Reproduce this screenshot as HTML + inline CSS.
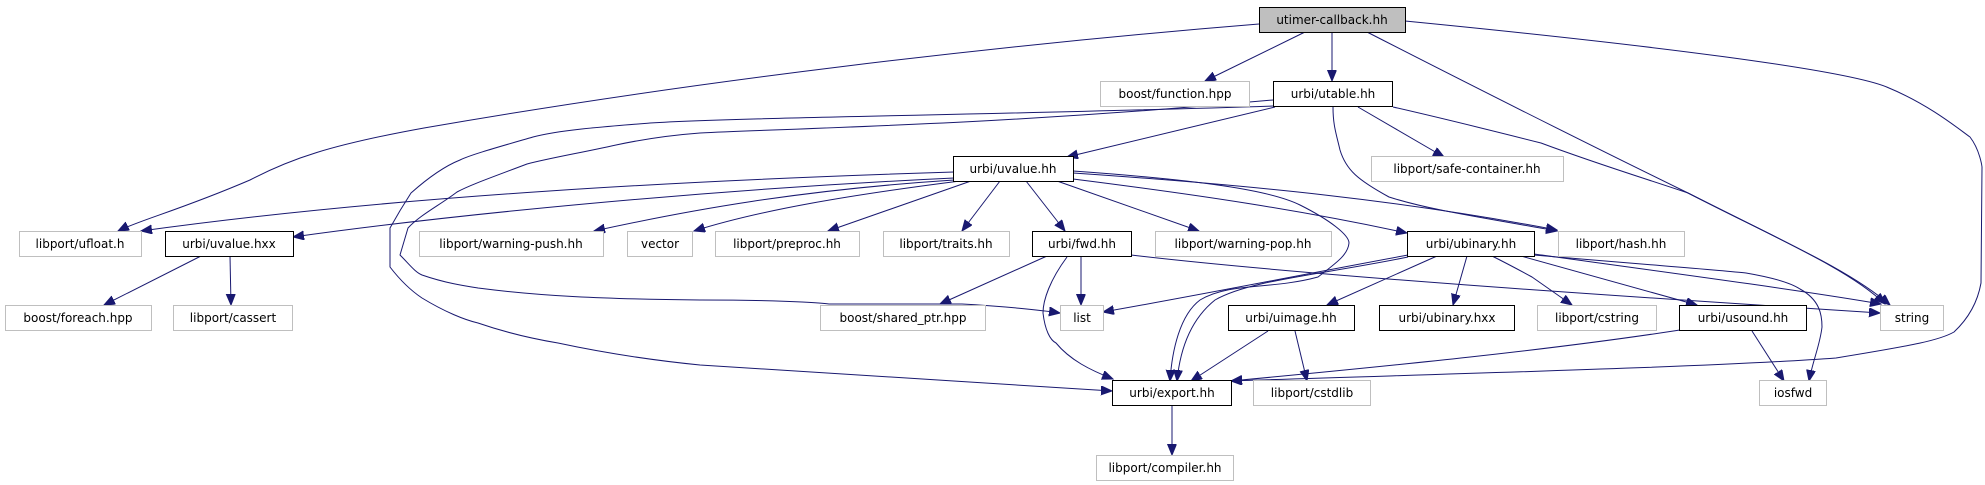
<!DOCTYPE html>
<html><head><meta charset="utf-8"><style>
html,body{margin:0;padding:0;background:#fff;}
svg{display:block;}
text{font-family:"DejaVu Sans","Liberation Sans",sans-serif;font-size:12px;fill:#000;text-anchor:middle;}
.e{fill:none;stroke:#191970;stroke-width:1;stroke-linejoin:round;}
.g{fill:#fff;stroke:#bfbfbf;stroke-width:1;}
.b{fill:#fff;stroke:#000;stroke-width:1;}
</style></head><body>
<svg width="1985" height="485" viewBox="0 0 1985 485" xmlns="http://www.w3.org/2000/svg">
<defs>
<marker id="a" markerUnits="userSpaceOnUse" markerWidth="12" markerHeight="10" refX="11" refY="4.5" orient="auto">
<path d="M0,0 L11,4.5 L0,9 Z" fill="#191970" stroke="#191970"/>
</marker>
</defs>
<g marker-end="url(#a)">
<!-- from utimer -->
<path class="e" d="M1259,24 C1000,45 700,80 424,128 C330,145 290,159 250,180 C180,210 140,220 118,231"/>
<path class="e" d="M1305,32 L1205,81"/>
<path class="e" d="M1332,32 L1332,81"/>
<path class="e" d="M1367,32 C1500,100 1600,150 1688,193 C1780,240 1850,270 1890,305"/>
<path class="e" d="M1405,21 C1650,45 1850,70 1889,88 C1930,105 1960,130 1970,137 C1980,150 1982,167 1982,167 L1981,283 C1978,300 1970,317 1954,332 C1940,340 1916,345 1836,358 C1700,368 1400,375 1231,381"/>
<!-- from utable -->
<path class="e" d="M1275,107 L1067,157"/>
<path class="e" d="M1358,107 L1444,157"/>
<path class="e" d="M1393,107 C1450,120 1541,143 1541,143 C1600,165 1650,180 1688,193 C1780,240 1850,270 1885,304"/>
<path class="e" d="M1333,107 C1333,125 1336,133 1340,150 C1346,170 1358,180 1389,197 C1430,210 1479,217 1557,231"/>
<path class="e" d="M1273,106 C1000,115 750,117 650,123 C600,127 560,130 533,137 C495,148 470,155 460,160 C440,168 420,185 411,193 C400,210 390,228 390,228 L390,267 C400,280 410,290 422,298 C445,312 465,320 478,323 C510,334 540,340 558,343 C600,352 650,360 700,365 C850,375 1000,385 1112,391"/>
<path class="e" d="M1273,100 C1000,125 800,128 700,133 C660,136 630,142 616,145 C580,153 550,158 527,164 C490,178 470,185 457,192 C440,205 420,215 408,228 L400,255 C410,265 415,272 422,275 C445,283 465,286 478,288 C540,296 600,299 700,300 C800,300 829,304 829,304 L962,304 C1000,306 1040,310 1060,313"/>
<!-- from uvalue.hh -->
<path class="e" d="M954,172 C700,180 400,195 141,231"/>
<path class="e" d="M954,178 C700,190 450,215 293,237"/>
<path class="e" d="M954,180 C800,190 690,210 594,231"/>
<path class="e" d="M960,181 C850,195 760,210 694,231"/>
<path class="e" d="M971,181 L828,231"/>
<path class="e" d="M1000,181 L962,231"/>
<path class="e" d="M1026,181 L1065,231"/>
<path class="e" d="M1057,181 L1199,231"/>
<path class="e" d="M1073,179 C1200,195 1300,210 1407,233"/>
<path class="e" d="M1073,173 C1250,185 1400,200 1557,230"/>
<path class="e" d="M1073,171 C1200,180 1270,190 1300,205 C1330,220 1349,235 1349,243 C1348,255 1336,263 1318,277 C1270,290 1230,282 1200,300 C1180,315 1172,350 1170,381"/>
<!-- from uvalue.hxx -->
<path class="e" d="M201,256 L104,305"/>
<path class="e" d="M230,256 L231,305"/>
<!-- from fwd -->
<path class="e" d="M1047,256 L940,304"/>
<path class="e" d="M1081,256 L1081,305"/>
<path class="e" d="M1067,257 C1050,280 1043,300 1043,313 C1045,330 1050,340 1056,343 C1070,360 1090,370 1113,379"/>
<path class="e" d="M1131,255 C1300,275 1600,295 1880,313"/>
<!-- from ubinary -->
<path class="e" d="M1408,255 C1300,275 1200,295 1103,312"/>
<path class="e" d="M1408,257 C1320,275 1250,280 1215,300 C1190,320 1180,350 1177,381"/>
<path class="e" d="M1437,256 L1327,305"/>
<path class="e" d="M1467,256 L1453,305"/>
<path class="e" d="M1492,256 C1510,265 1532,277 1532,277 L1572,305"/>
<path class="e" d="M1521,256 L1697,305"/>
<path class="e" d="M1534,254 C1650,270 1800,290 1881,304"/>
<path class="e" d="M1534,255 C1650,265 1720,270 1746,273 C1775,278 1791,283 1800,289 C1820,300 1822,315 1822,327 C1820,345 1813,360 1809,381"/>
<!-- from uimage, usound -->
<path class="e" d="M1268,331 L1191,381"/>
<path class="e" d="M1295,331 L1307,381"/>
<path class="e" d="M1680,330 C1550,350 1400,365 1231,381"/>
<path class="e" d="M1752,331 L1784,381"/>
<!-- export -->
<path class="e" d="M1172,405 L1172,455"/>
</g>
<!-- nodes -->
<rect x="1259.5" y="7.5" width="146" height="25" fill="#bfbfbf" stroke="#000"/><text x="1332" y="24">utimer-callback.hh</text>
<rect class="g" x="1100.5" y="81.5" width="149" height="25"/><text x="1175" y="98">boost/function.hpp</text>
<rect class="b" x="1273.5" y="81.5" width="119" height="25"/><text x="1333" y="98">urbi/utable.hh</text>
<rect class="b" x="953.5" y="156.5" width="120" height="25"/><text x="1013" y="173">urbi/uvalue.hh</text>
<rect class="g" x="1371.5" y="156.5" width="192" height="25"/><text x="1467" y="173">libport/safe-container.hh</text>
<rect class="g" x="19.5" y="231.5" width="122" height="25"/><text x="80" y="248">libport/ufloat.h</text>
<rect class="b" x="165.5" y="231.5" width="128" height="25"/><text x="229" y="248">urbi/uvalue.hxx</text>
<rect class="g" x="419.5" y="231.5" width="184" height="25"/><text x="511" y="248">libport/warning-push.hh</text>
<rect class="g" x="627.5" y="231.5" width="65" height="25"/><text x="660" y="248">vector</text>
<rect class="g" x="715.5" y="231.5" width="144" height="25"/><text x="787" y="248">libport/preproc.hh</text>
<rect class="g" x="883.5" y="231.5" width="126" height="25"/><text x="946" y="248">libport/traits.hh</text>
<rect class="b" x="1032.5" y="231.5" width="99" height="25"/><text x="1082" y="248">urbi/fwd.hh</text>
<rect class="g" x="1155.5" y="231.5" width="176" height="25"/><text x="1243" y="248">libport/warning-pop.hh</text>
<rect class="b" x="1407.5" y="231.5" width="127" height="25"/><text x="1471" y="248">urbi/ubinary.hh</text>
<rect class="g" x="1558.5" y="231.5" width="126" height="25"/><text x="1621" y="248">libport/hash.hh</text>
<rect class="g" x="5.5" y="305.5" width="146" height="25"/><text x="78" y="322">boost/foreach.hpp</text>
<rect class="g" x="173.5" y="305.5" width="119" height="25"/><text x="233" y="322">libport/cassert</text>
<rect class="g" x="820.5" y="305.5" width="165" height="25"/><text x="903" y="322">boost/shared_ptr.hpp</text>
<rect class="g" x="1060.5" y="305.5" width="43" height="25"/><text x="1082" y="322">list</text>
<rect class="b" x="1228.5" y="305.5" width="126" height="25"/><text x="1291" y="322">urbi/uimage.hh</text>
<rect class="b" x="1379.5" y="305.5" width="135" height="25"/><text x="1447" y="322">urbi/ubinary.hxx</text>
<rect class="g" x="1537.5" y="305.5" width="119" height="25"/><text x="1597" y="322">libport/cstring</text>
<rect class="b" x="1679.5" y="305.5" width="127" height="25"/><text x="1743" y="322">urbi/usound.hh</text>
<rect class="g" x="1880.5" y="305.5" width="63" height="25"/><text x="1912" y="322">string</text>
<rect class="b" x="1112.5" y="380.5" width="119" height="25"/><text x="1172" y="397">urbi/export.hh</text>
<rect class="g" x="1253.5" y="380.5" width="117" height="25"/><text x="1312" y="397">libport/cstdlib</text>
<rect class="g" x="1759.5" y="380.5" width="67" height="25"/><text x="1793" y="397">iosfwd</text>
<rect class="g" x="1096.5" y="455.5" width="137" height="25"/><text x="1165" y="472">libport/compiler.hh</text>
</svg>
</body></html>
